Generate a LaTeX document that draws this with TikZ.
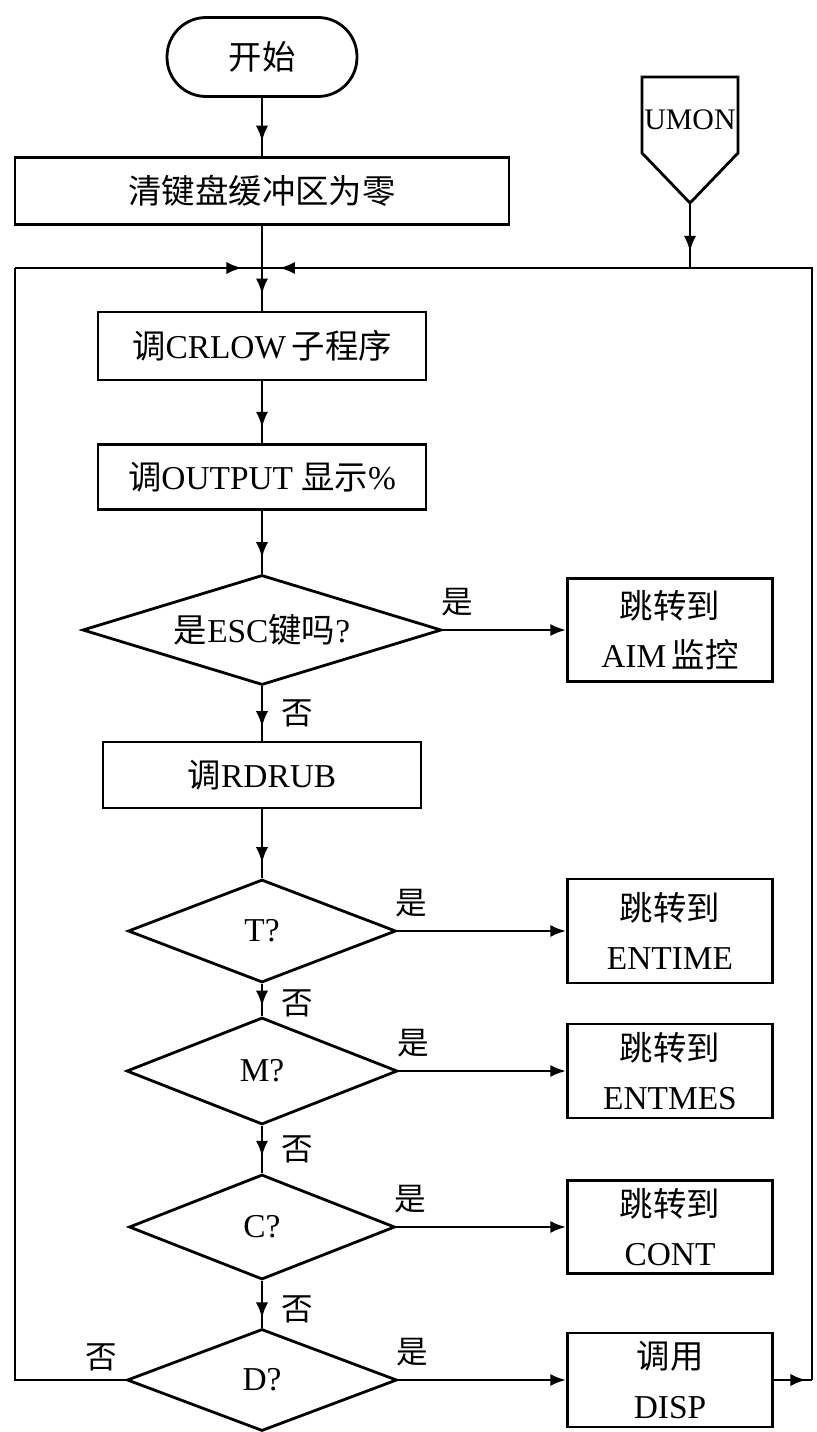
\documentclass[tikz,border=0pt]{standalone}
\usepackage{fontspec}
\setmainfont{Liberation Serif}
\newfontfamily\cjk{Noto Sans CJK SC}
\newcommand{\zh}[1]{{\cjk #1}}
\usetikzlibrary{shapes.geometric,arrows.meta,decorations.markings}
\tikzset{
  flow/.style={line width=1.6pt},
  tip/.style={-{Latex[length=9pt,width=7pt]}},
  arrowat/.style={decoration={markings, mark=at position #1 with {\arrow{Latex[length=9pt,width=7pt]}}}, postaction={decorate}},
  procbox/.style={draw, line width=1.6pt, inner sep=0pt, align=center, font=\fontsize{19}{28}\selectfont},
  jumpbox/.style={procbox, minimum width=4.1cm, minimum height=1.95cm},
  decision/.style={draw, diamond, line width=1.6pt, inner sep=0pt, aspect=2.6, font=\fontsize{19}{24}\selectfont},
  lbl/.style={inner sep=0pt, font=\fontsize{18}{20}\selectfont},
  yeslbl/.style={lbl, xshift=0.28cm, yshift=0.56cm},
  nolbl/.style={lbl, xshift=0.7cm},
}
\begin{document}
\begin{tikzpicture}[x=0.02cm, y=-0.02cm]
        \useasboundingbox (0,0) rectangle (816,1432);
        \coordinate (jn) at (262,268);
        \coordinate (lt) at (15,268);
        \coordinate (lb) at (15,1380);
        \coordinate (rt) at (812,268);
        \coordinate (rb) at (812,1380);
        \coordinate (um) at (690,268);
        \coordinate (umtip) at (690,203);
        \node[procbox, rounded corners=0.78cm, minimum width=3.8cm, minimum height=1.58cm] (start) at (262,57) {\zh{开始}};
        \node[procbox, minimum width=9.88cm, minimum height=1.34cm] (clear) at (262,191) {\zh{清键盘缓冲区为零}};
        \node[inner sep=0pt, font=\fontsize{17}{20}\selectfont] (umon) at (690,120) {UMON};
        \draw[line width=1.6pt] (642,77) -- (738,77) -- (738,153) -- (umtip) -- (642,153) -- cycle;
        \node[procbox, minimum width=6.56cm, minimum height=1.36cm] (crlow) at (262,346) {\zh{调}CRLOW\,\zh{子程序}};
        \node[procbox, minimum width=6.56cm, minimum height=1.3cm] (output) at (262,477) {\zh{调}OUTPUT \zh{显示}\%};
        \node[decision, aspect=3.26, minimum width=7.18cm, minimum height=2.2cm] (esc) at (262,630) {\zh{是}ESC\zh{键吗}?};
        \node[jumpbox, minimum height=2.06cm] (aim) at (670,630) {\zh{跳转到}\\AIM\,\zh{监控}};
        \node[procbox, minimum width=6.36cm, minimum height=1.32cm] (rdrub) at (262,775) {\zh{调}RDRUB};
        \node[decision, minimum width=5.36cm, minimum height=2.06cm] (tq) at (262,931) {T?};
        \node[jumpbox, minimum height=2.08cm] (entime) at (670,931) {\zh{跳转到}\\ENTIME};
        \node[decision, minimum width=5.42cm, minimum height=2.14cm] (mq) at (262,1071) {M?};
        \node[jumpbox, minimum height=1.88cm] (entmes) at (670,1071) {\zh{跳转到}\\ENTMES};
        \node[decision, minimum width=5.32cm, minimum height=2.1cm] (cq) at (262,1227) {C?};
        \node[jumpbox, minimum height=1.86cm] (cont) at (670,1227) {\zh{跳转到}\\CONT};
        \node[decision, minimum width=5.4cm, minimum height=2.04cm] (dq) at (262,1380) {D?};
        \node[jumpbox, minimum height=1.88cm] (disp) at (670,1380) {\zh{调用}\\DISP};
        \draw[flow, arrowat=0.75] (start) -- (clear);
        \draw[flow] (clear) -- (jn);
        \draw[flow, arrowat=0.75] (umtip) -- (um);
        \draw[flow, arrowat=0.62] (jn) -- (crlow);
        \draw[flow, arrowat=0.75] (crlow) -- (output);
        \draw[flow, arrowat=0.75] (output) -- (esc);
        \draw[flow, arrowat=0.75] (esc) -- node[nolbl, pos=0.5] {\zh{否}} (rdrub);
        \draw[flow, arrowat=0.78] (rdrub) -- (tq);
        \draw[flow, arrowat=0.7] (tq) -- node[nolbl, pos=0.6] {\zh{否}} (mq);
        \draw[flow, arrowat=0.65] (mq) -- node[nolbl, pos=0.5] {\zh{否}} (cq);
        \draw[flow, arrowat=0.8] (cq) -- node[nolbl, pos=0.6] {\zh{否}} (dq);
        \draw[flow, tip] (esc.east) -- node[yeslbl, pos=0] {\zh{是}} (esc.east -| aim.west);
        \draw[flow, tip] (tq.east) -- node[yeslbl, pos=0] {\zh{是}} (tq.east -| entime.west);
        \draw[flow, tip] (mq.east) -- node[yeslbl, pos=0] {\zh{是}} (mq.east -| entmes.west);
        \draw[flow, tip] (cq.east) -- node[yeslbl, pos=0] {\zh{是}} (cq.east -| cont.west);
        \draw[flow, tip] (dq.east) -- node[yeslbl, pos=0] {\zh{是}} (dq.east -| disp.west);
        \draw[flow] (dq.west) -- node[lbl, pos=0, xshift=-0.48cm, yshift=0.46cm] {\zh{否}} (lb) -- (lt);
        \draw[flow, arrowat=0.92] (lt) -- (jn);
        \draw[flow, arrowat=0.85] (disp.east) -- (rb);
        \draw[flow] (rb) -- (rt) -- (um);
        \draw[flow, arrowat=0.96] (um) -- (jn);
\end{tikzpicture}
\end{document}
